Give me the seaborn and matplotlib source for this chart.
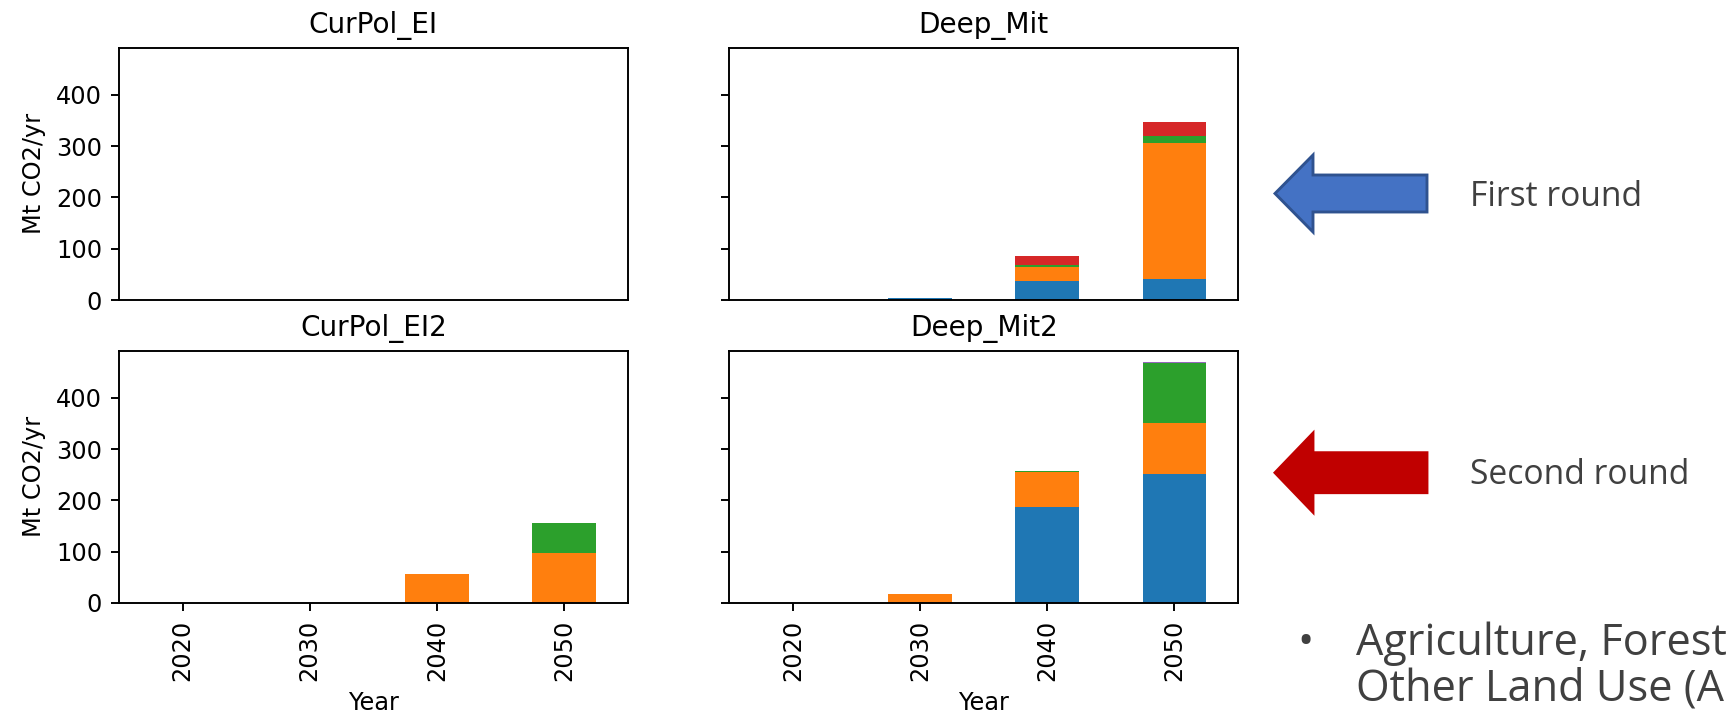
import numpy as np
import pandas as pd
import matplotlib
matplotlib.use("Agg")
import matplotlib.pyplot as plt
import seaborn as sns
from matplotlib.patches import Polygon

# ---------------- data ----------------
years = ["2020", "2030", "2040", "2050"]
sectors = ["Sector 1", "Sector 2", "Sector 3", "Sector 4", "Sector 5"]
scenarios = ["CurPol_EI", "Deep_Mit", "CurPol_EI2", "Deep_Mit2"]
colors = ["#1f77b4", "#ff7f0e", "#2ca02c", "#d62728", "#9467bd"]

# rows = sectors (bottom -> top), columns = years
curpol_ei = [
    [0, 0, 0, 0],
    [0, 0, 0, 0],
    [0, 0, 0, 0],
    [0, 0, 0, 0],
    [0, 0, 0, 0],
]
deep_mit = [
    [0, 4, 38, 42],
    [0, 0, 27, 264],
    [0, 0, 4, 14],
    [0, 0, 16, 27],
    [0, 0, 0, 0],
]
curpol_ei2 = [
    [0, 0, 0, 0],
    [0, 0, 56, 97],
    [0, 0, 0, 59],
    [0, 0, 0, 0],
    [0, 0, 0, 0],
]
deep_mit2 = [
    [0, 0, 188, 251],
    [0, 18, 67, 99],
    [0, 0, 3, 117],
    [0, 0, 0, 0],
    [0, 0, 0, 3],
]
all_data = [curpol_ei, deep_mit, curpol_ei2, deep_mit2]

ylabel = "Mt CO2/yr"
xlabel = "Year"
round_labels = ["First round", "Second round"]
bullet_lines = ["Agriculture, Forest", "Other Land Use (A"]

# ---------------- figure ----------------
W, H, DPI = 1735, 719, 173
fig, axes = plt.subplots(2, 2, figsize=(W / DPI, H / DPI), dpi=DPI,
                         sharex=True, sharey=True)
fig.subplots_adjust(left=119 / W, right=1238 / W, bottom=1 - 603 / H,
                    top=1 - 47.6 / H, wspace=0.2, hspace=0.2)

for ax, name, vals in zip(axes.flat, scenarios, all_data):
    bottom = np.zeros(len(years))
    for sec, col, v in zip(sectors, colors, vals):
        df = pd.DataFrame({"Year": years, "value": v})
        sns.barplot(data=df, x="Year", y="value", order=years, color=col,
                    saturation=1, width=0.5, bottom=bottom.copy(),
                    linewidth=0, edgecolor="none", errorbar=None, ax=ax)
        bottom += np.asarray(v, dtype=float)
    ax.set_title(name, fontsize=11.6)
    ax.set_ylabel("")
    ax.set_xlabel("")
    ax.set_ylim(0, 492)
    ax.set_xlim(-0.5, len(years) - 0.5)

for ax in axes[0]:
    ax.tick_params(axis="x", bottom=False, labelbottom=False)
for ax in axes[1]:
    ax.set_xlabel(xlabel)
    ax.tick_params(axis="x", labelrotation=90)
for ax in axes[:, 0]:
    ax.set_ylabel(ylabel)
for ax in axes[:, 1]:
    ax.tick_params(axis="y", labelleft=False)


# ---------------- annotations (pixel coords -> figure fraction) ----------------
def fx(x):
    return x / W


def fy(y):
    return 1 - y / H


def arrow(tip_x, cy, head_x, half_head, half_shaft, right_x, face, edge):
    pts = [(tip_x, cy), (head_x, cy - half_head), (head_x, cy - half_shaft),
           (right_x, cy - half_shaft), (right_x, cy + half_shaft),
           (head_x, cy + half_shaft), (head_x, cy + half_head)]
    poly = Polygon([(fx(x), fy(y)) for x, y in pts], closed=True,
                   transform=fig.transFigure, facecolor=face, edgecolor=edge,
                   linewidth=1.2, zorder=5)
    fig.add_artist(poly)


arrow(1275, 193.5, 1313, 38.5, 18.5, 1427, "#4472C4", "#2F528F")
arrow(1275, 472.7, 1313, 39.5, 20.0, 1427, "#C00000", "#C00000")

txt_kw = dict(family=["Open Sans", "DejaVu Sans"], color="#404040",
              transform=fig.transFigure)
fig.text(fx(1470), fy(197), round_labels[0], fontsize=14, va="center",
         ha="left", **txt_kw)
fig.text(fx(1470), fy(475), round_labels[1], fontsize=14, va="center",
         ha="left", **txt_kw)

fig.text(fx(1297), fy(655), "\u2022", fontsize=18, va="baseline", ha="left",
         **txt_kw)
fig.text(fx(1356), fy(655), bullet_lines[0], fontsize=18, va="baseline",
         ha="left", **txt_kw)
fig.text(fx(1356), fy(701), bullet_lines[1], fontsize=18, va="baseline",
         ha="left", **txt_kw)

fig.savefig("out.png", dpi=DPI)
